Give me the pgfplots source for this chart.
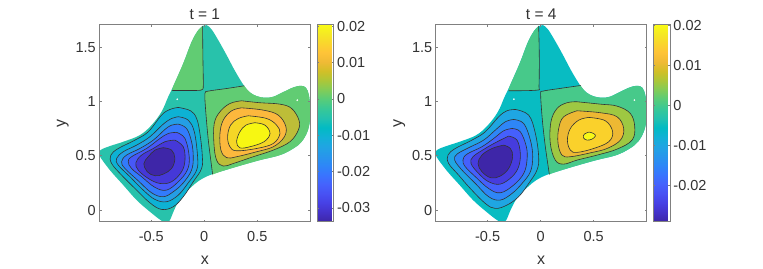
\documentclass[border=0pt]{standalone}
\usepackage{fontspec}
\setmainfont{Liberation Sans}
\usepackage{pgfplots}
\pgfplotsset{compat=1.18}
\definecolor{txt}{rgb}{0.2,0.2,0.2}
\pgfplotsset{
 colormap={parula}{
  rgb=(0.2422,0.1504,0.6603) rgb=(0.2647,0.1978,0.7952) rgb=(0.2783,0.2559,0.8991) rgb=(0.2810,0.3228,0.9579)
  rgb=(0.2699,0.3892,0.9906) rgb=(0.2206,0.4603,0.9973) rgb=(0.1786,0.5289,0.9682) rgb=(0.1540,0.5902,0.9218)
  rgb=(0.1248,0.6459,0.8883) rgb=(0.0689,0.6948,0.8394) rgb=(0.0067,0.7312,0.7660) rgb=(0.1408,0.7584,0.6842)
  rgb=(0.2161,0.7843,0.5923) rgb=(0.3406,0.8008,0.4789) rgb=(0.5044,0.7993,0.3480) rgb=(0.6720,0.7793,0.2227)
  rgb=(0.8203,0.7498,0.1535) rgb=(0.9393,0.7288,0.2100) rgb=(0.9970,0.7659,0.2199) rgb=(0.9786,0.8394,0.1768)
  rgb=(0.9597,0.9135,0.1423) rgb=(0.9769,0.9839,0.0805)},
 colormap name=parula,
 panel/.style={
  scale only axis, width=211pt, height=197.4pt, anchor=south west,
  xmin=-0.99, xmax=1, ymin=-0.107, ymax=1.71,
  axis on top, clip=true,
  xtick={-0.5,0,0.5}, xticklabels={-0.5,0,0.5},
  ytick={0,0.5,1,1.5}, yticklabels={0,0.5,1,1.5},
  tick align=inside, major tick length=2.2pt,
  axis line style={draw=black!50,line width=0.7pt},
  tick style={draw=black!50,line width=0.6pt},
  tick label style={font=\fontsize{14.5}{16}\selectfont,text=txt},
  xticklabel style={yshift=-6pt},
  label style={font=\fontsize{16}{18}\selectfont,text=txt},
  title style={font=\fontsize{15.5}{17}\selectfont,text=txt,yshift=-5pt},
  xlabel={x}, ylabel={y},
  xlabel style={yshift=-8pt}, ylabel style={yshift=0pt},
  colorbar,
 },
 cb/.style={
  width=16.3pt, height=197pt, scale only axis,
  at={(parent axis.north east)}, anchor=north west, xshift=-1.6pt,
  tick align=inside, major tick length=1.5pt,
  axis line style={draw=black!50,line width=0.6pt},
  tick style={draw=black!50,line width=0.5pt},
  tick label style={font=\fontsize{14.5}{16}\selectfont,text=txt},
  yticklabel pos=right, scaled y ticks=false,
 },
 reg/.style={draw=none,smooth,tension=0.6},
 con/.style={draw=black!80,line width=0.6pt,smooth,tension=0.62},
 zer/.style={draw=black!80,line width=0.6pt,smooth,tension=0.5,fill=none},
 dots/.style={only marks,mark=*,mark size=0.6pt,mark options={fill=white,draw=none},white},
}
% panel t = 1 level colours
\definecolor{Amin}{rgb}{0.2422,0.1504,0.6603}
\definecolor{Am30}{rgb}{0.272,0.220,0.846}
\definecolor{Am25}{rgb}{0.2795,0.347,0.973}
\definecolor{Am20}{rgb}{0.198,0.483,0.990}
\definecolor{Am15}{rgb}{0.14,0.62,0.90}
\definecolor{Am10}{rgb}{0.05,0.70,0.83}
\definecolor{Am05}{rgb}{0.155,0.762,0.672}
\definecolor{Ap00}{rgb}{0.38,0.80,0.45}
\definecolor{Ap05}{rgb}{0.74,0.74,0.22}
\definecolor{Ap10}{rgb}{0.99,0.72,0.24}
\definecolor{Ap15}{rgb}{0.96,0.84,0.15}
\definecolor{Ap20}{rgb}{0.97,0.97,0.07}
% panel t = 4 level colours
\definecolor{Bmin}{rgb}{0.2422,0.1504,0.6603}
\definecolor{Bm25}{rgb}{0.275,0.235,0.871}
\definecolor{Bm20}{rgb}{0.272,0.378,0.987}
\definecolor{Bm15}{rgb}{0.18,0.525,0.97}
\definecolor{Bm10}{rgb}{0.12,0.65,0.885}
\definecolor{Bm05}{rgb}{0.03,0.737,0.76}
\definecolor{Bp00}{rgb}{0.28,0.79,0.54}
\definecolor{Bp05}{rgb}{0.62,0.785,0.26}
\definecolor{Bp10}{rgb}{0.93,0.72,0.20}
\definecolor{Bp15}{rgb}{0.98,0.82,0.17}
\definecolor{Bp20}{rgb}{0.973,0.975,0.09}
\begin{document}
\begin{tikzpicture}[x=1pt,y=1pt]
\path[use as bounding box] (0,0) rectangle (763,268);
% ---------------- t = 1
\begin{axis}[panel, at={(99.3pt,46.3pt)}, title={t = 1},
  point meta min=-0.0337, point meta max=0.0205,
  colorbar style={cb, ytick={-0.03,-0.02,-0.01,0,0.01,0.02}, yticklabels={-0.03,-0.02,-0.01,0,0.01,0.02}}]
\addplot[reg,fill=Am05] coordinates {(-0.016,1.693)(0.022,1.702)(0.069,1.663)(0.132,1.564)(0.211,1.426)(0.289,1.282)(0.377,1.141)(0.431,1.083)(0.494,1.049)(0.572,1.034)(0.651,1.043)(0.745,1.086)(0.840,1.129)(0.909,1.144)(0.959,1.126)(0.987,1.058)(0.997,0.951)(0.997,0.828)(0.972,0.721)(0.918,0.629)(0.840,0.567)(0.714,0.506)(0.525,0.460)(0.336,0.408)(0.179,0.362)(0.053,0.322)(-0.041,0.276)(-0.119,0.215)(-0.214,0.123)(-0.277,0.015)(-0.324,-0.092)(-0.355,-0.110)(-0.403,-0.098)(-0.513,-0.015)(-0.638,0.092)(-0.764,0.230)(-0.890,0.368)(-0.991,0.506)(-0.978,0.552)(-0.890,0.589)(-0.764,0.629)(-0.607,0.690)(-0.497,0.782)(-0.403,0.905)(-0.340,1.043)(-0.292,1.141)(-0.198,1.350)(-0.119,1.549)(-0.057,1.656)(-0.016,1.693)};
\addplot[reg,fill=Ap00] coordinates {(-0.016,1.693)(-0.016,1.680)(-0.013,1.411)(-0.009,1.150)(-0.019,1.110)(-0.072,1.101)(-0.295,1.101)(-0.302,1.101)(-0.298,1.112)(-0.292,1.141)(-0.198,1.350)(-0.119,1.549)(-0.057,1.656)(-0.016,1.693)};
\addplot[reg,fill=Ap00] coordinates {(0.377,1.144)(0.360,1.141)(0.211,1.119)(0.038,1.095)(0.006,1.073)(0.013,0.920)(0.038,0.644)(0.076,0.345)(0.079,0.328)(0.095,0.334)(0.179,0.362)(0.336,0.408)(0.525,0.460)(0.714,0.506)(0.840,0.567)(0.918,0.629)(0.972,0.721)(0.997,0.828)(0.997,0.951)(0.987,1.058)(0.959,1.126)(0.909,1.144)(0.840,1.129)(0.745,1.086)(0.651,1.043)(0.572,1.034)(0.494,1.049)(0.431,1.083)(0.390,1.127)(0.377,1.144)};
\addplot[zer] coordinates {(-0.016,1.693)(-0.013,1.411)(-0.009,1.150)(-0.019,1.110)(-0.072,1.101)(-0.302,1.101)};
\addplot[zer] coordinates {(0.377,1.144)(0.211,1.119)(0.038,1.095)(0.006,1.073)(0.013,0.920)(0.038,0.644)(0.079,0.328)};
\addplot[con,fill=Am10] coordinates {(-0.245,0.945)(-0.129,0.914)(-0.072,0.843)(-0.041,0.705)(-0.019,0.506)(-0.025,0.383)(-0.104,0.261)(-0.198,0.123)(-0.292,0.031)(-0.403,0.006)(-0.513,0.067)(-0.654,0.199)(-0.780,0.322)(-0.874,0.429)(-0.881,0.506)(-0.811,0.567)(-0.654,0.644)(-0.528,0.721)(-0.403,0.874)(-0.324,0.926)(-0.245,0.945)};
\addplot[con,fill=Am15] coordinates {(-.245,.859)(-.151,.828)(-.094,.721)(-.063,.491)(-.072,.368)(-.151,.251)(-.245,.138)(-.355,.077)(-.465,.098)(-.576,.184)(-.701,.307)(-.811,.414)(-.827,.475)(-.764,.537)(-.638,.598)(-.513,.675)(-.387,.791)(-.308,.843)(-.245,.859)};
\addplot[con,fill=Am20] coordinates {(-.245,.791)(-.167,.751)(-.120,.629)(-.104,.491)(-.120,.368)(-.198,.251)(-.292,.169)(-.387,.123)(-.497,.159)(-.623,.270)(-.748,.383)(-.780,.445)(-.733,.506)(-.607,.567)(-.481,.644)(-.371,.742)(-.308,.782)(-.245,.791)};
\addplot[con,fill=Am25] coordinates {(-.261,.715)(-.182,.659)(-.142,.491)(-.160,.368)(-.245,.261)(-.355,.184)(-.465,.209)(-.591,.307)(-.686,.383)(-.717,.445)(-.686,.491)(-.544,.567)(-.418,.659)(-.340,.705)(-.261,.715)};
\addplot[con,fill=Am30] coordinates {(-.277,.644)(-.198,.583)(-.182,.460)(-.214,.353)(-.308,.261)(-.418,.245)(-.528,.291)(-.623,.368)(-.645,.436)(-.591,.506)(-.481,.567)(-.371,.629)(-.277,.644)};
\addplot[con,fill=Amin] coordinates {(-.387,.574)(-.308,.552)(-.277,.475)(-.308,.383)(-.387,.331)(-.465,.316)(-.538,.353)(-.569,.429)(-.528,.491)(-.465,.552)(-.387,.574)};
\addplot[con,fill=Ap05] coordinates {(.352,1.006)(.525,.988)(.714,.975)(.824,.935)(.893,.828)(.887,.736)(.808,.629)(.651,.552)(.462,.491)(.274,.429)(.179,.405)(.116,.460)(.091,.613)(.094,.797)(.148,.905)(.242,.981)(.352,1.006)};
\addplot[con,fill=Ap10] coordinates {(.352,.941)(.557,.920)(.698,.874)(.770,.767)(.752,.669)(.651,.583)(.494,.537)(.305,.491)(.211,.482)(.157,.552)(.148,.705)(.179,.828)(.258,.914)(.352,.941)};
\addplot[con,fill=Ap15] coordinates {(.415,.868)(.588,.843)(.682,.782)(.714,.705)(.651,.613)(.494,.567)(.305,.546)(.242,.583)(.220,.675)(.248,.782)(.321,.843)(.415,.868)};
\addplot[con,fill=Ap20] coordinates {(.478,.804)(.572,.782)(.620,.705)(.563,.629)(.431,.583)(.336,.573)(.305,.629)(.336,.721)(.393,.782)(.478,.804)};
\addplot[dots] coordinates {(-0.255,1.021)(0.877,1.012)};
\end{axis}
% ---------------- t = 4
\begin{axis}[panel, at={(435.7pt,46.3pt)}, title={t = 4},
  point meta min=-0.029, point meta max=0.0203,
  colorbar style={cb, ytick={-0.02,-0.01,0,0.01,0.02}, yticklabels={-0.02,-0.01,0,0.01,0.02}}]
\addplot[reg,fill=Bm05] coordinates {(-0.016,1.693)(0.022,1.702)(0.069,1.663)(0.132,1.564)(0.211,1.426)(0.289,1.282)(0.377,1.141)(0.431,1.083)(0.494,1.049)(0.572,1.034)(0.651,1.043)(0.745,1.086)(0.840,1.129)(0.909,1.144)(0.959,1.126)(0.987,1.058)(0.997,0.951)(0.997,0.828)(0.972,0.721)(0.918,0.629)(0.840,0.567)(0.714,0.506)(0.525,0.460)(0.336,0.408)(0.179,0.362)(0.053,0.322)(-0.041,0.276)(-0.119,0.215)(-0.214,0.123)(-0.277,0.015)(-0.324,-0.092)(-0.355,-0.110)(-0.403,-0.098)(-0.513,-0.015)(-0.638,0.092)(-0.764,0.230)(-0.890,0.368)(-0.991,0.506)(-0.978,0.552)(-0.890,0.589)(-0.764,0.629)(-0.607,0.690)(-0.497,0.782)(-0.403,0.905)(-0.340,1.043)(-0.292,1.141)(-0.198,1.350)(-0.119,1.549)(-0.057,1.656)(-0.016,1.693)};
\addplot[reg,fill=Bp00] coordinates {(-0.019,1.693)(-0.019,1.680)(-0.013,1.411)(-0.016,1.141)(-0.035,1.104)(-0.295,1.098)(-0.302,1.098)(-0.298,1.112)(-0.292,1.141)(-0.198,1.350)(-0.119,1.549)(-0.057,1.656)(-0.019,1.693)};
\addplot[reg,fill=Bp00] coordinates {(0.377,1.147)(0.360,1.144)(0.186,1.120)(0.022,1.095)(0,1.067)(0.016,0.828)(0.044,0.583)(0.079,0.345)(0.082,0.328)(0.098,0.335)(0.179,0.362)(0.336,0.408)(0.525,0.460)(0.714,0.506)(0.840,0.567)(0.918,0.629)(0.972,0.721)(0.997,0.828)(0.997,0.951)(0.987,1.058)(0.959,1.126)(0.909,1.144)(0.840,1.129)(0.745,1.086)(0.651,1.043)(0.572,1.034)(0.494,1.049)(0.431,1.083)(0.390,1.127)(0.377,1.147)};
\addplot[zer] coordinates {(-0.019,1.693)(-0.013,1.411)(-0.016,1.141)(-0.035,1.104)(-0.302,1.098)};
\addplot[zer] coordinates {(0.377,1.147)(0.186,1.120)(0.022,1.095)(0,1.067)(0.016,0.828)(0.044,0.583)(0.082,0.328)};
\addplot[con,fill=Bm10] coordinates {(-.239,.926)(-.113,.874)(-.050,.705)(-.019,.491)(-.035,.368)(-.113,.245)(-.208,.123)(-.318,.046)(-.428,.015)(-.522,.061)(-.664,.199)(-.774,.322)(-.868,.429)(-.874,.506)(-.805,.567)(-.648,.644)(-.522,.721)(-.396,.859)(-.318,.914)(-.239,.926)};
\addplot[con,fill=Bm15] coordinates {(-.255,.834)(-.160,.797)(-.097,.644)(-.075,.491)(-.097,.353)(-.176,.245)(-.270,.153)(-.381,.092)(-.491,.123)(-.616,.245)(-.742,.368)(-.811,.460)(-.789,.515)(-.679,.574)(-.538,.644)(-.428,.736)(-.333,.813)(-.255,.834)};
\addplot[con,fill=Bm20] coordinates {(-.270,.751)(-.192,.721)(-.135,.583)(-.129,.460)(-.160,.337)(-.255,.230)(-.381,.159)(-.491,.199)(-.616,.307)(-.711,.399)(-.733,.460)(-.695,.515)(-.554,.583)(-.443,.659)(-.349,.730)(-.270,.751)};
\addplot[con,fill=Bm25] coordinates {(-.302,.681)(-.223,.644)(-.192,.521)(-.208,.399)(-.270,.307)(-.381,.239)(-.491,.261)(-.585,.337)(-.657,.429)(-.638,.491)(-.538,.558)(-.428,.620)(-.302,.681)};
\addplot[con,fill=Bmin] coordinates {(-.349,.598)(-.286,.567)(-.264,.491)(-.302,.383)(-.381,.313)(-.469,.297)(-.554,.353)(-.591,.429)(-.554,.506)(-.459,.567)(-.349,.598)};
\addplot[con,fill=Bp05] coordinates {(.343,.997)(.563,.975)(.720,.957)(.846,.889)(.887,.767)(.862,.644)(.720,.561)(.532,.506)(.343,.460)(.217,.423)(.138,.460)(.091,.613)(.097,.813)(.154,.935)(.248,.988)(.343,.997)};
\addplot[con,fill=Bp10] coordinates {(.343,.914)(.563,.896)(.720,.859)(.783,.751)(.752,.644)(.626,.567)(.469,.527)(.280,.491)(.201,.506)(.164,.613)(.170,.751)(.217,.859)(.343,.914)};
\addplot[con,fill=Bp15] coordinates {(.453,.853)(.610,.822)(.679,.721)(.642,.629)(.500,.567)(.343,.531)(.280,.552)(.252,.644)(.280,.751)(.359,.828)(.453,.853)};
\addplot[con,fill=Bp20] coordinates {(.456,.718)(.500,.705)(.516,.681)(.484,.653)(.437,.644)(.403,.666)(.412,.699)(.456,.718)};
\addplot[dots] coordinates {(-0.252,1.021)(0.884,1.012)};
\end{axis}
\end{tikzpicture}
\end{document}
